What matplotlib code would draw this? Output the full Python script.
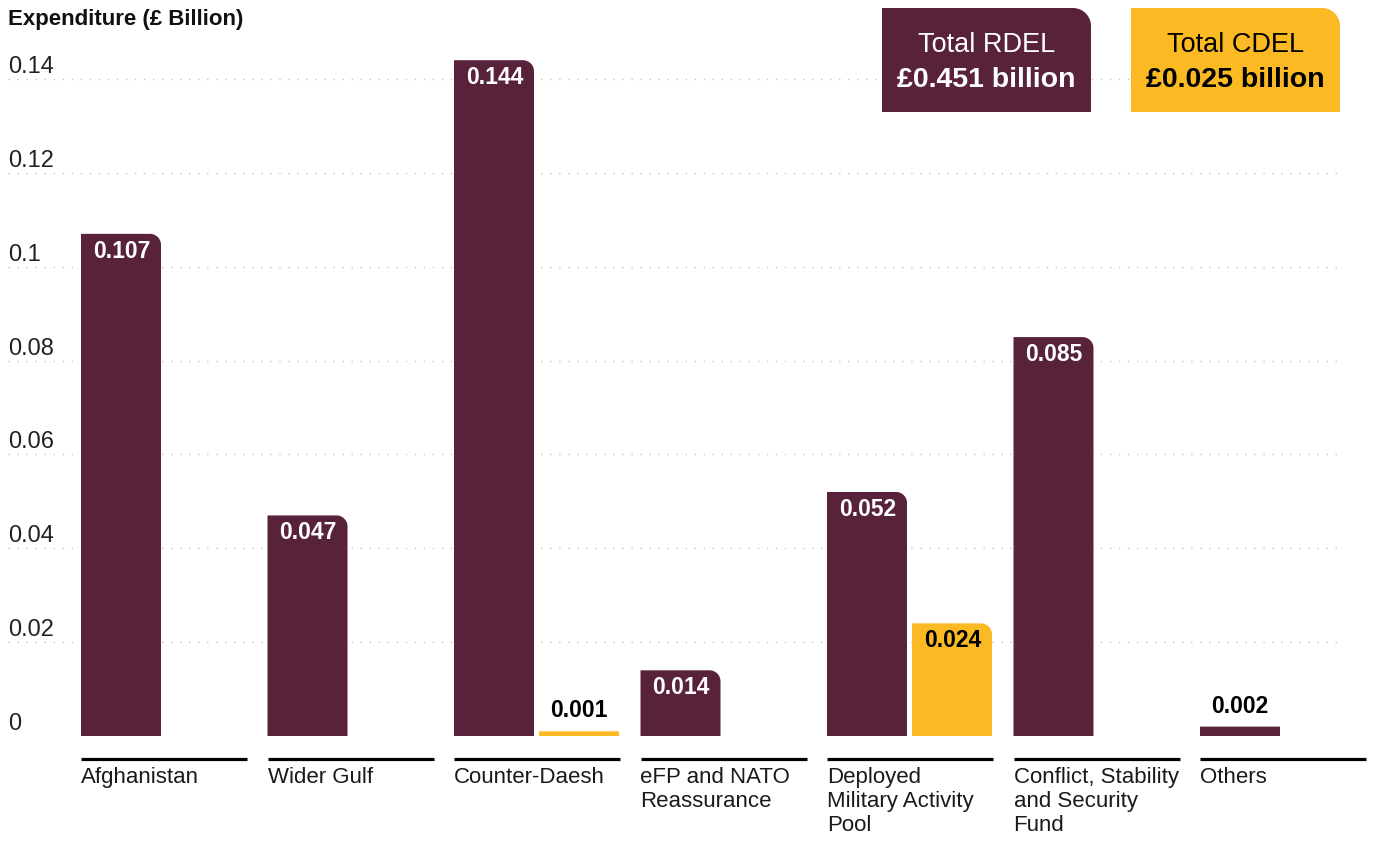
import matplotlib
matplotlib.use('Agg')
import matplotlib.pyplot as plt
import numpy as np
from matplotlib.path import Path
from matplotlib.patches import PathPatch

plt.rcParams['font.family'] = ['Liberation Sans', 'DejaVu Sans']

# data to plot
categories = ['Afghanistan', 'Wider Gulf', 'Counter-Daesh', 'eFP and NATO\nReassurance',
              'Deployed\nMilitary Activity\nPool', 'Conflict, Stability\nand Security\nFund', 'Others']
rdelValues = [0.107, 0.047, 0.144, 0.014, 0.052, 0.085, 0.002]
cdelValues = [np.nan, np.nan, 0.001, np.nan, 0.024, np.nan, np.nan]
yTicks = [0.02, 0.04, 0.06, 0.08, 0.1, 0.12, 0.14]
yTickLabels = ['0.02', '0.04', '0.06', '0.08', '0.1', '0.12', '0.14']
totalLabels = ['Total RDEL', 'Total CDEL']
totalValues = ['£0.451 billion', '£0.025 billion']

maroon = '#57223A'
yellow = '#FBB923'

W, H = 1375, 841
PX_X = 186.5          # pixels per category step
PX_Y = 4693.0         # pixels per £1 billion
BAR_W = 80 / PX_X
CDEL_OFF = 85 / PX_X


def roundedTopRight(x0, y0, w, h, rx, ry):
    """Path of a rectangle with only the top-right corner rounded."""
    k = 0.5523
    verts = [(x0, y0), (x0 + w, y0), (x0 + w, y0 + h - ry),
             (x0 + w, y0 + h - ry + k * ry), (x0 + w - rx + k * rx, y0 + h), (x0 + w - rx, y0 + h),
             (x0, y0 + h), (x0, y0)]
    codes = [Path.MOVETO, Path.LINETO, Path.LINETO,
             Path.CURVE4, Path.CURVE4, Path.CURVE4,
             Path.LINETO, Path.CLOSEPOLY]
    return Path(verts, codes)


def roundBars(ax, bars, color, radiusPx=11):
    for rect in bars:
        h = rect.get_height()
        if np.isnan(h) or h <= 0:
            continue
        r = radiusPx if h * PX_Y > 3 * radiusPx else 0.001
        path = roundedTopRight(rect.get_x(), 0, rect.get_width(), h, r / PX_X, r / PX_Y)
        ax.add_patch(PathPatch(path, facecolor=color, edgecolor='none', zorder=3))
        rect.set_visible(False)


def labelBars(ax, xs, values, insideColor):
    for x, v in zip(xs, values):
        if np.isnan(v):
            continue
        txt = '%.3f' % v
        if v * PX_Y > 40:
            ax.annotate(txt, (x, v), xytext=(12, -6), textcoords='offset pixels',
                        ha='left', va='top', color=insideColor, fontsize=16.5,
                        fontweight='bold', zorder=5)
        else:
            ax.annotate(txt, (x, v), xytext=(11, 9), textcoords='offset pixels',
                        ha='left', va='bottom', color='black', fontsize=16.5,
                        fontweight='bold', zorder=5)


fig = plt.figure(figsize=(W / 100, H / 100), dpi=100)
ax = fig.add_axes([0, 105 / H, 1, 700 / H])
ax.set_xlim(-81 / PX_X, (W - 81) / PX_X)
ax.set_ylim(0, 700 / PX_Y)
ax.axis('off')

index = np.arange(len(categories))

# dotted grid lines with labels sitting above them
for t in yTicks:
    ax.axhline(t, xmin=8 / W, xmax=1340 / W, color='#c4c4c4', lw=1.0,
               linestyle=(0, (1, 5.5)), zorder=1)
for t, lab in zip([0] + yTicks, ['0'] + yTickLabels):
    ax.annotate(lab, (-73 / PX_X, t), xytext=(0, 12), textcoords='offset pixels',
                ha='left', va='center', fontsize=17, color='#222222')

rdelBars = ax.bar(index, rdelValues, BAR_W, align='edge', color=maroon)
cdelBars = ax.bar(index + CDEL_OFF, np.nan_to_num(cdelValues), BAR_W, align='edge', color=yellow)
roundBars(ax, rdelBars, maroon)
roundBars(ax, cdelBars, yellow)

labelBars(ax, index, rdelValues, 'white')
labelBars(ax, index + CDEL_OFF, cdelValues, 'black')

# black rule and category name under each group
for i, name in zip(index, categories):
    ax.plot([i, i + 166 / PX_X], [-23 / PX_Y, -23 / PX_Y], color='black', lw=2.3,
            solid_capstyle='butt', clip_on=False)
    ax.annotate(name, (i, 0), xytext=(0, -31), textcoords='offset pixels',
                ha='left', va='top', fontsize=16, color='#1a1a1a',
                linespacing=1.2, annotation_clip=False)

fig.text(8 / W, 1 - 20 / H, 'Expenditure (£ Billion)', ha='left', va='center',
         fontsize=16, fontweight='bold', color='#111111')

# total boxes in the top right
boxes = [(882, maroon, 'white'), (1131, yellow, 'black')]
for (left, face, tc), lab, val in zip(boxes, totalLabels, totalValues):
    bw, bh, top = 209, 104, 8
    path = roundedTopRight(left / W, 1 - (top + bh) / H, bw / W, bh / H, 18 / W, 18 / H)
    fig.add_artist(PathPatch(path, facecolor=face, edgecolor='none',
                             transform=fig.transFigure, zorder=4))
    cx = (left + bw / 2) / W
    fig.text(cx, 1 - 45 / H, lab, ha='center', va='center', fontsize=19.5,
             color=tc, zorder=5)
    fig.text(cx, 1 - 80 / H, val, ha='center', va='center', fontsize=20.5,
             fontweight='bold', color=tc, zorder=5)

fig.savefig('out.png', dpi=100)
